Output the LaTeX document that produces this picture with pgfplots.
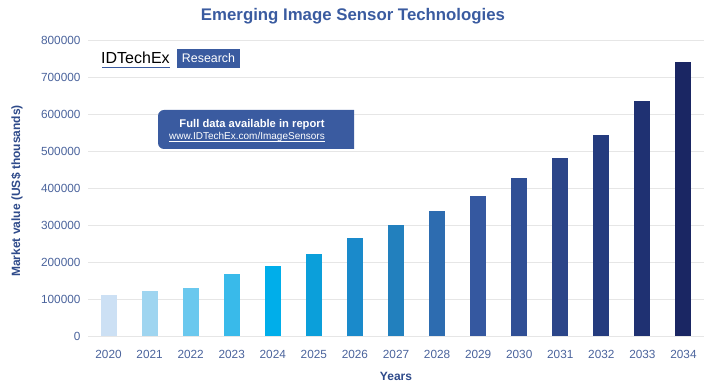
\documentclass[border=0pt]{standalone}
\usepackage{fontspec}
\setmainfont{Liberation Sans}
\usepackage{pgfplots}
\pgfplotsset{compat=1.18}
\definecolor{titleblue}{HTML}{3A5BA0}
\definecolor{labblue}{HTML}{2E4A8A}
\definecolor{tickblue}{HTML}{4A639C}
\definecolor{gridgray}{HTML}{E6E6E6}
\definecolor{c0}{HTML}{CCE0F4}
\definecolor{c1}{HTML}{9FD5F0}
\definecolor{c2}{HTML}{6AC8EE}
\definecolor{c3}{HTML}{39BAEA}
\definecolor{c4}{HTML}{00AEEA}
\definecolor{c5}{HTML}{0B9FDA}
\definecolor{c6}{HTML}{1A8ACB}
\definecolor{c7}{HTML}{2280BE}
\definecolor{c8}{HTML}{2D6CB0}
\definecolor{c9}{HTML}{3558A0}
\definecolor{c10}{HTML}{304F95}
\definecolor{c11}{HTML}{2B4589}
\definecolor{c12}{HTML}{243B7E}
\definecolor{c13}{HTML}{1F3172}
\definecolor{c14}{HTML}{1A2663}
\begin{document}
\begin{tikzpicture}
\useasboundingbox (0,0) rectangle (706pt,387pt);
\begin{axis}[
  at={(88pt,51pt)}, anchor=south west,
  scale only axis, width=616pt, height=296pt,
  xmin=-0.5, xmax=14.5, ymin=0, ymax=800000,
  ybar, bar width=16pt, bar shift=0pt,
  axis line style={draw=none},
  tick style={draw=none},
  ymajorgrids, grid style={gridgray, line width=0.8pt},
  ytick={0,100000,...,800000},
  scaled y ticks=false,
  yticklabel style={/pgf/number format/fixed, /pgf/number format/1000 sep={}, font=\fontsize{11.8}{12}\selectfont, text=tickblue},
  /pgf/number format/assume math mode=true,
  xtick={0,...,14},
  xticklabels={2020,2021,2022,2023,2024,2025,2026,2027,2028,2029,2030,2031,2032,2033,2034},
  xticklabel style={font=\fontsize{11.8}{12}\selectfont, text=tickblue},
  yticklabel shift=4pt,
  xticklabel shift=6pt,
  clip=false,
]
\addplot[fill=c0, draw=none] coordinates {(0,111500)};
\addplot[fill=c1, draw=none] coordinates {(1,120700)};
\addplot[fill=c2, draw=none] coordinates {(2,130400)};
\addplot[fill=c3, draw=none] coordinates {(3,166600)};
\addplot[fill=c4, draw=none] coordinates {(4,189000)};
\addplot[fill=c5, draw=none] coordinates {(5,221400)};
\addplot[fill=c6, draw=none] coordinates {(6,263800)};
\addplot[fill=c7, draw=none] coordinates {(7,300000)};
\addplot[fill=c8, draw=none] coordinates {(8,338000)};
\addplot[fill=c9, draw=none] coordinates {(9,378000)};
\addplot[fill=c10, draw=none] coordinates {(10,427000)};
\addplot[fill=c11, draw=none] coordinates {(11,482000)};
\addplot[fill=c12, draw=none] coordinates {(12,543000)};
\addplot[fill=c13, draw=none] coordinates {(13,635000)};
\addplot[fill=c14, draw=none] coordinates {(14,740000)};
\end{axis}
% title and axis labels
\node[font=\fontsize{16.8}{18}\selectfont\bfseries, text=titleblue] at (353pt,371pt) {Emerging Image Sensor Technologies};
\node[font=\fontsize{12}{13}\selectfont\bfseries, text=labblue, rotate=90] at (17pt,196pt) {Market value (US\$ thousands)};
\node[font=\fontsize{12}{13}\selectfont\bfseries, text=labblue] at (396pt,11pt) {Years};
% logo
\node[anchor=west, inner sep=0pt, font=\fontsize{16}{17}\selectfont, text=black] at (101pt,329pt) {IDTechEx};
\draw[titleblue, line width=1.3pt] (102pt,319.5pt) -- (170pt,319.5pt);
\fill[titleblue] (177pt,319pt) rectangle (240pt,338pt);
\node[font=\fontsize{12.4}{13}\selectfont, text=white] at (208.5pt,328.5pt) {Research};
% data box
\fill[titleblue] (354pt,277pt) [rounded corners=6pt] -- (158pt,277pt) -- (158pt,238pt) [sharp corners] -- (354pt,238pt) -- cycle;
\node[font=\fontsize{11.2}{12}\selectfont\bfseries, text=white] at (252pt,262pt) {Full data available in report};
\node[font=\fontsize{10}{11}\selectfont, text=white, inner sep=0pt] (lnk) at (247pt,250pt) {www.IDTechEx.com/ImageSensors};
\draw[white, line width=0.5pt] ([yshift=-1.2pt]lnk.base west) -- ([yshift=-1.2pt]lnk.base east);
\end{tikzpicture}
\end{document}
